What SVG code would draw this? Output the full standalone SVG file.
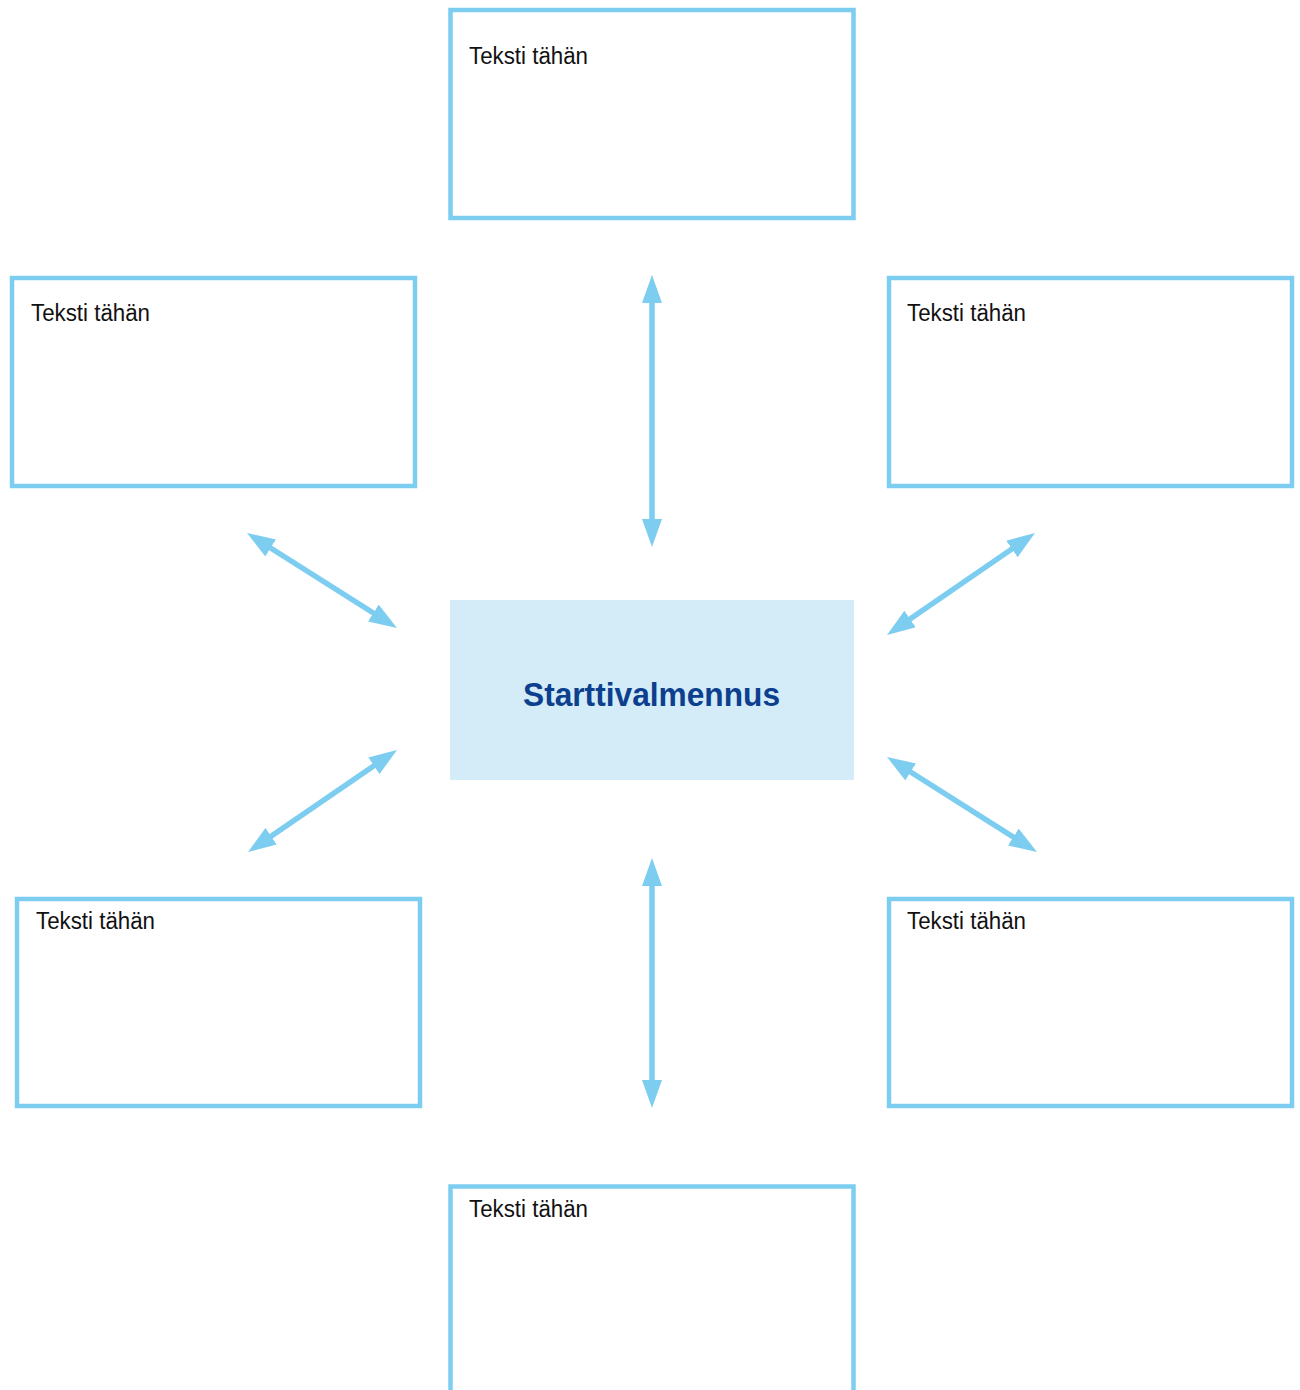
<svg xmlns="http://www.w3.org/2000/svg" width="1300" height="1390" viewBox="0 0 1300 1390">
<style>
.box{fill:#fff;stroke:#7ccdf0;stroke-width:4.5}
.lbl{font-family:"Liberation Sans",Arial,sans-serif;font-size:23px;fill:#111}
.conn{stroke:#7ccdf0;stroke-width:5.5;fill:none;marker-start:url(#ah);marker-end:url(#ah)}
.center{fill:#d4ebf8}
.title{font-family:"Liberation Sans",Arial,sans-serif;font-weight:bold;font-size:34px;fill:#0d3f8f}
</style>
<defs>
<marker id="ah" markerUnits="userSpaceOnUse" markerWidth="30" markerHeight="22" refX="8" refY="10" orient="auto-start-reverse">
<path d="M0,0 L28,10 L0,20 z" fill="#7ccdf0"/>
</marker>
</defs>
<rect width="1300" height="1390" fill="#fff"/>
<g id="node-top">
<rect class="box" x="450.5" y="10" width="403" height="208"/>
<text class="lbl" x="469" y="64" textLength="119" lengthAdjust="spacingAndGlyphs">Teksti tähän</text>
</g>
<g id="node-top-left">
<rect class="box" x="12" y="278" width="403" height="208"/>
<text class="lbl" x="31" y="321" textLength="119" lengthAdjust="spacingAndGlyphs">Teksti tähän</text>
</g>
<g id="node-top-right">
<rect class="box" x="889" y="278" width="403" height="208"/>
<text class="lbl" x="907" y="321" textLength="119" lengthAdjust="spacingAndGlyphs">Teksti tähän</text>
</g>
<g id="node-center">
<rect class="center" x="450" y="600" width="404" height="180"/>
<text class="title" x="523" y="706" textLength="257" lengthAdjust="spacingAndGlyphs">Starttivalmennus</text>
</g>
<g id="node-bottom-left">
<rect class="box" x="17" y="899" width="403" height="207"/>
<text class="lbl" x="36" y="929" textLength="119" lengthAdjust="spacingAndGlyphs">Teksti tähän</text>
</g>
<g id="node-bottom-right">
<rect class="box" x="889" y="899" width="403" height="207"/>
<text class="lbl" x="907" y="929" textLength="119" lengthAdjust="spacingAndGlyphs">Teksti tähän</text>
</g>
<g id="node-bottom">
<rect class="box" x="450.5" y="1186.5" width="403" height="230"/>
<text class="lbl" x="469" y="1217" textLength="119" lengthAdjust="spacingAndGlyphs">Teksti tähän</text>
</g>
<g id="connectors">
<line class="conn" x1="652" y1="295" x2="652" y2="527"/>
<line class="conn" x1="652" y1="878" x2="652" y2="1088"/>
<line class="conn" x1="263.9" y1="543.7" x2="380.1" y2="617.3"/>
<line class="conn" x1="1018.5" y1="544.4" x2="903.5" y2="623.6"/>
<line class="conn" x1="380.5" y1="761.3" x2="264.5" y2="840.7"/>
<line class="conn" x1="903.9" y1="767.7" x2="1020.1" y2="841.3"/>
</g>
</svg>
